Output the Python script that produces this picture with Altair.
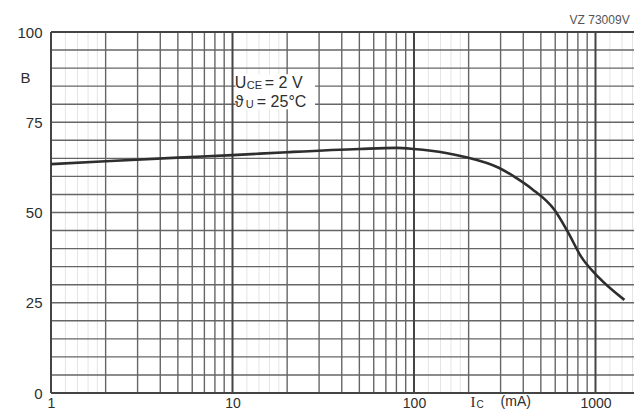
import altair as alt
import pandas as pd

# ---- data ----
ic_ma = [1, 2, 5, 10, 20, 50, 80, 100, 150, 191, 293, 360, 445, 595, 710, 835, 1038, 1443]
gain_b = [63.4, 64.2, 65.2, 65.9, 66.7, 67.6, 67.9, 67.6, 66.5, 65.4, 62.4, 59.8, 56.6, 50.7, 44.3, 37.7, 32.1, 25.8]
x_ticks = [1, 10, 100, 1000]
y_ticks = [0, 25, 50, 75, 100]
decades = [1, 10, 100, 1000]
x_max = 1630

FONT = "Liberation Sans"
INK = "#2e2e2e"

xs = alt.Scale(type="log", domain=[1, x_max], nice=False)
ys = alt.Scale(domain=[0, 100], nice=False, zero=False)

major_v = [d for d in decades if d <= x_max]
minor_v = [k * d for d in decades for k in range(2, 10) if k * d <= x_max]
faint_v = [f * d for d in decades for f in (1.2, 1.4, 1.6, 1.8) if f * d <= x_max]
h_lines = list(range(5, 100, 5))
border_h = [0, 100]

curve = pd.DataFrame({"ic": ic_ma, "b": gain_b})

faint = alt.Chart(pd.DataFrame({"v": faint_v})).mark_rule(color="#e4e4e4", strokeWidth=1).encode(
    x=alt.X("v:Q", scale=xs, axis=alt.Axis(values=x_ticks, format="d", labelFontSize=14, labelFont=FONT,
                                           labelColor=INK, ticks=False, domain=False, grid=False,
                                           labelPadding=3, labelFlush=False, title=None)))
minor = alt.Chart(pd.DataFrame({"v": minor_v})).mark_rule(color="#666666", strokeWidth=1.4).encode(
    x=alt.X("v:Q", scale=xs))
major = alt.Chart(pd.DataFrame({"v": major_v})).mark_rule(color="#444444", strokeWidth=2).encode(
    x=alt.X("v:Q", scale=xs))
hgrid = alt.Chart(pd.DataFrame({"h": h_lines})).mark_rule(color="#666666", strokeWidth=1.4).encode(
    y=alt.Y("h:Q", scale=ys, axis=alt.Axis(values=y_ticks, labelFontSize=15, labelFont=FONT, labelColor=INK,
                                           ticks=False, domain=False, grid=False, labelPadding=9,
                                           title="B", titleAngle=0, titleX=-26, titleY=45,
                                           titleFontSize=15, titleFont=FONT, titleFontWeight="normal",
                                           titleColor=INK, titleAlign="center", titleBaseline="middle")))
hborder = alt.Chart(pd.DataFrame({"h": border_h})).mark_rule(color="#444444", strokeWidth=2).encode(
    y=alt.Y("h:Q", scale=ys))

line = alt.Chart(curve).mark_line(color=INK, strokeWidth=2.6, interpolate="monotone").encode(
    x=alt.X("ic:Q", scale=xs), y=alt.Y("b:Q", scale=ys))

# annotation box
box = alt.Chart(pd.DataFrame({"x1": [10.4], "x2": [28.5], "y1": [78.6], "y2": [88.3]})).mark_rect(
    color="white").encode(x=alt.X("x1:Q", scale=xs), x2="x2:Q", y=alt.Y("y1:Q", scale=ys), y2="y2:Q")

anchor = pd.DataFrame({"x": [10.3], "y1": [85.9], "y2": [80.6]})


def txt(s, ycol, dx, dy=0, size=16):
    return alt.Chart(anchor).mark_text(text=s, align="left", baseline="middle", dx=dx, dy=dy,
                                       fontSize=size, font=FONT, color=INK).encode(
        x=alt.X("x:Q", scale=xs), y=alt.Y(f"{ycol}:Q", scale=ys))


ann = [
    txt("U", "y1", 0),
    txt("CE", "y1", 12, dy=3, size=11),
    txt("= 2 V", "y1", 30),
    txt("ϑ", "y2", 0),
    txt("U", "y2", 11, dy=3, size=11),
    txt("= 25°C", "y2", 22),
]

lab = pd.DataFrame({"x": [205, 300, 720], "y": [-2.5, -2.5, 103.4]})
ic_label = alt.Chart(lab.iloc[[0]]).mark_text(text="I", align="left", baseline="middle", fontSize=15,
                                              font="Liberation Serif", color=INK).encode(
    x=alt.X("x:Q", scale=xs), y=alt.Y("y:Q", scale=ys))
ic_sub = alt.Chart(lab.iloc[[0]]).mark_text(text="C", align="left", baseline="middle", dx=6, dy=3,
                                            fontSize=10, font=FONT, color=INK).encode(
    x=alt.X("x:Q", scale=xs), y=alt.Y("y:Q", scale=ys))
ma_label = alt.Chart(lab.iloc[[1]]).mark_text(text="(mA)", align="left", baseline="middle", fontSize=14,
                                              font=FONT, color=INK).encode(
    x=alt.X("x:Q", scale=xs), y=alt.Y("y:Q", scale=ys))
code_label = alt.Chart(lab.iloc[[2]]).mark_text(text="VZ 73009V", align="left", baseline="middle",
                                                fontSize=12, font=FONT, color="#555555").encode(
    x=alt.X("x:Q", scale=xs), y=alt.Y("y:Q", scale=ys))

chart = alt.layer(faint, minor, hgrid, major, hborder, box, line, *ann, ic_label, ic_sub, ma_label,
                  code_label).properties(
    width=583, height=361, autosize="none",
    padding={"left": 43, "top": 24, "right": 0, "bottom": 18},
    background="white",
).configure_view(stroke=None)

chart.save("out.html", embed_options={"renderer": "svg", "actions": False})
